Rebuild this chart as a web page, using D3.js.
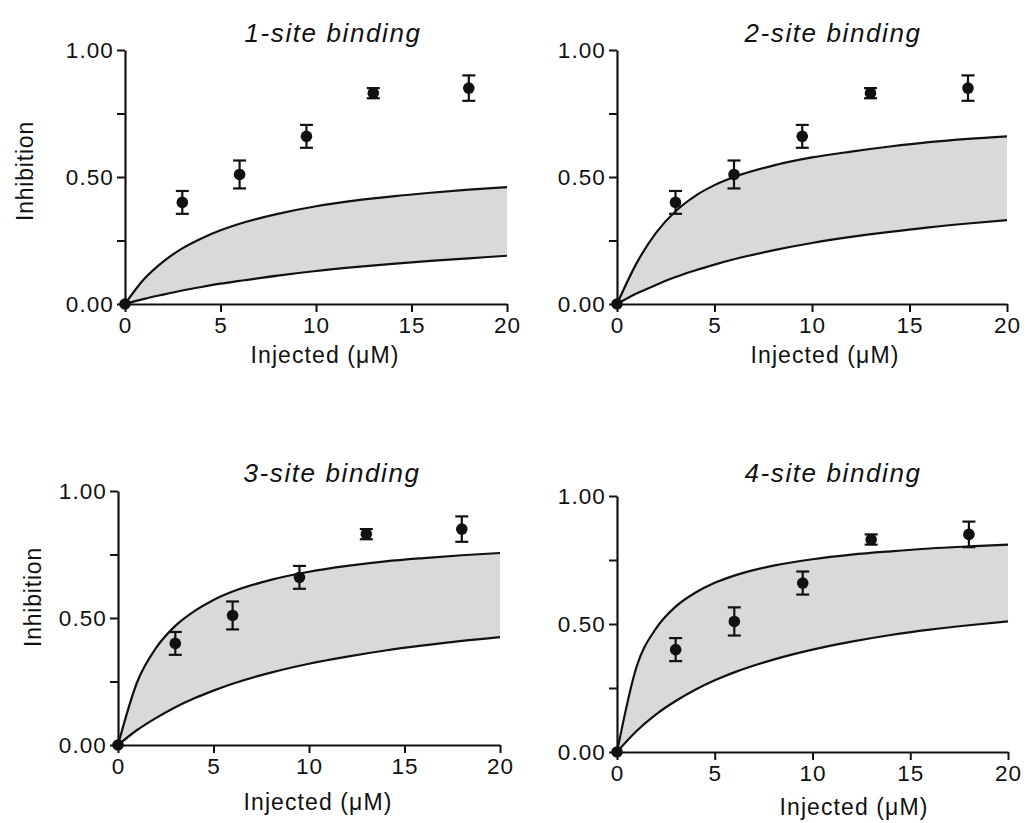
<!DOCTYPE html>
<html>
<head>
<meta charset="utf-8">
<script src="https://cdn.jsdelivr.net/npm/d3@7/dist/d3.min.js"></script>
<style>
body { margin: 0; background: #ffffff; }
text { font-family: "Liberation Sans", Arial, sans-serif; fill: #111; }
</style>
</head>
<body>
<svg id="chart"></svg>
<script>
// measured points (same in every panel)
var conc = [0, 3, 6, 9.5, 13, 18];
var inhibition = [0, 0.40, 0.51, 0.66, 0.83, 0.85];
var inhibitionErr = [0, 0.045, 0.055, 0.045, 0.02, 0.05];

// model curves
var curveX = [0, 1, 2, 3, 4, 5, 6, 8, 10, 12, 14, 16, 18, 20];
var upper1 = [0, 0.098, 0.167, 0.219, 0.258, 0.290, 0.316, 0.355, 0.385, 0.407, 0.424, 0.438, 0.450, 0.460];
var lower1 = [0, 0.020, 0.037, 0.053, 0.067, 0.080, 0.091, 0.112, 0.130, 0.145, 0.158, 0.170, 0.180, 0.190];
var upper2 = [0, 0.160, 0.280, 0.365, 0.425, 0.468, 0.500, 0.545, 0.577, 0.600, 0.620, 0.637, 0.650, 0.660];
var lower2 = [0, 0.041, 0.075, 0.106, 0.132, 0.155, 0.176, 0.211, 0.240, 0.264, 0.284, 0.302, 0.317, 0.330];
var upper3 = [0, 0.247, 0.383, 0.469, 0.527, 0.571, 0.604, 0.650, 0.682, 0.705, 0.723, 0.736, 0.747, 0.756];
var lower3 = [0, 0.059, 0.107, 0.149, 0.184, 0.214, 0.241, 0.285, 0.320, 0.348, 0.372, 0.392, 0.410, 0.425];
var upper4 = [0, 0.333, 0.483, 0.568, 0.622, 0.661, 0.689, 0.728, 0.753, 0.771, 0.784, 0.795, 0.803, 0.810];
var lower4 = [0, 0.082, 0.147, 0.199, 0.243, 0.280, 0.311, 0.361, 0.400, 0.431, 0.457, 0.478, 0.495, 0.510];

var titles = ['1-site binding', '2-site binding', '3-site binding', '4-site binding'];
var xTicks = [0, 5, 10, 15, 20];
var yTicks = [0, 0.25, 0.5, 0.75, 1];
var yTickLabels = ['0.00', '', '0.50', '', '1.00'];
var xLabel = 'Injected (\u03bcM)';
var yLabel = 'Inhibition';

var width = 1027, height = 823;

var panels = [
	{ x0: 125, x1: 507, y0: 304, y1: 50, upper: upper1, lower: lower1, yLab: true, xLabX: 325, xLabY: 363, yLabX: 33, yLabY: 171, titleX: 333, titleY: 42 },
	{ x0: 617, x1: 1007, y0: 304, y1: 50, upper: upper2, lower: lower2, yLab: false, xLabX: 825, xLabY: 363, titleX: 833, titleY: 42 },
	{ x0: 118, x1: 500, y0: 745, y1: 491, upper: upper3, lower: lower3, yLab: true, xLabX: 318, xLabY: 810, yLabX: 41, yLabY: 597, titleX: 332, titleY: 482 },
	{ x0: 617, x1: 1008, y0: 752, y1: 496, upper: upper4, lower: lower4, yLab: false, xLabX: 854, xLabY: 815, titleX: 833, titleY: 482 }
];

var svg = d3.select('#chart').attr('width', width).attr('height', height);
svg.append('rect').attr('width', width).attr('height', height).attr('fill', '#ffffff');

panels.forEach(function(p, i) {
	var x = d3.scaleLinear().domain([0, 20]).range([p.x0, p.x1]);
	var y = d3.scaleLinear().domain([0, 1]).range([p.y0, p.y1]);
	var g = svg.append('g');

	var band = curveX.map((c, k) => ({ x: c, lo: p.lower[k], hi: p.upper[k] }));

	g.append('path')
		.datum(band)
		.attr('fill', '#d9d9d9')
		.attr('d', d3.area().curve(d3.curveMonotoneX)
			.x(d => x(d.x)).y0(d => y(d.lo)).y1(d => y(d.hi)));

	['hi', 'lo'].forEach(function(k) {
		g.append('path')
			.datum(band)
			.attr('fill', 'none')
			.attr('stroke', '#111')
			.attr('stroke-width', 2.2)
			.attr('d', d3.line().curve(d3.curveMonotoneX).x(d => x(d.x)).y(d => y(d[k])));
	});

	// axes
	var xAxis = g.append('g')
		.attr('transform', 'translate(0,' + p.y0 + ')')
		.call(d3.axisBottom(x).tickValues(xTicks).tickSize(8).tickSizeOuter(0).tickPadding(5));
	var yAxis = g.append('g')
		.attr('transform', 'translate(' + p.x0 + ',0)')
		.call(d3.axisLeft(y).tickValues(yTicks).tickSize(8).tickSizeOuter(0).tickPadding(3)
			.tickFormat((d, k) => yTickLabels[k]));

	[xAxis, yAxis].forEach(function(a) {
		a.select('.domain').attr('stroke', '#111').attr('stroke-width', 2.2);
		a.selectAll('.tick line').attr('stroke', '#111').attr('stroke-width', 2);
		a.selectAll('.tick text')
			.attr('font-family', '"Liberation Sans", Arial, sans-serif')
			.attr('font-size', 22.5)
			.attr('letter-spacing', 1.1)
			.attr('fill', '#111');
	});

	// data points with error bars
	var pts = conc.map((c, k) => ({ x: c, y: inhibition[k], e: inhibitionErr[k] }));
	var bars = pts.filter(d => d.e > 0);
	g.selectAll('.err').data(bars).enter().append('line')
		.attr('x1', d => x(d.x)).attr('x2', d => x(d.x))
		.attr('y1', d => y(d.y - d.e)).attr('y2', d => y(d.y + d.e))
		.attr('stroke', '#111').attr('stroke-width', 2.2);
	[-1, 1].forEach(function(s) {
		g.selectAll('.cap' + s).data(bars).enter().append('line')
			.attr('x1', d => x(d.x) - 6.5).attr('x2', d => x(d.x) + 6.5)
			.attr('y1', d => y(d.y + s * d.e)).attr('y2', d => y(d.y + s * d.e))
			.attr('stroke', '#111').attr('stroke-width', 2.2);
	});
	g.selectAll('.pt').data(pts).enter().append('circle')
		.attr('cx', d => x(d.x)).attr('cy', d => y(d.y))
		.attr('r', 5.8)
		.attr('fill', '#111');

	// titles and labels
	g.append('text')
		.attr('x', p.titleX).attr('y', p.titleY)
		.attr('text-anchor', 'middle')
		.attr('font-size', 26)
		.attr('font-style', 'italic')
		.attr('letter-spacing', 1.6)
		.text(titles[i]);

	g.append('text')
		.attr('x', p.xLabX).attr('y', p.xLabY)
		.attr('text-anchor', 'middle')
		.attr('font-size', 23)
		.attr('letter-spacing', 1.1)
		.text(xLabel);

	if (p.yLab) {
		g.append('text')
			.attr('transform', 'translate(' + p.yLabX + ',' + p.yLabY + ') rotate(-90)')
			.attr('text-anchor', 'middle')
			.attr('font-size', 23)
			.attr('letter-spacing', 0.8)
			.text(yLabel);
	}
});
</script>
</body>
</html>
